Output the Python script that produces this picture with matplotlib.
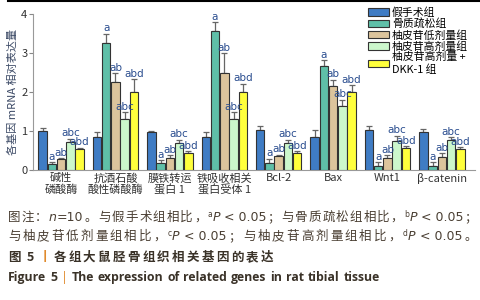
import re
import numpy as np
import matplotlib.pyplot as plt
from matplotlib.lines import Line2D

plt.rcParams['font.family'] = ['Noto Sans CJK SC', 'DejaVu Sans']

genes = ['碱性\n磷酸酶', '抗酒石酸\n酸性磷酸酶', '膜铁转运\n蛋白 1', '铁吸收相关\n蛋白受体 1',
         'Bcl-2', 'Bax', 'Wnt1', 'β-catenin']
groups = ['假手术组', '骨质疏松组', '柚皮苷低剂量组', '柚皮苷高剂量组', '柚皮苷高剂量 +\nDKK-1 组']
colors = ['#3f7cc4', '#5fbfa8', '#dcc49c', '#ccf7cc', '#ffff3c']

sham = [1.00, 0.85, 0.97, 0.85, 1.04, 0.85, 1.04, 0.98]
op = [0.16, 3.25, 0.18, 3.57, 0.19, 2.67, 0.10, 0.11]
low = [0.28, 2.25, 0.32, 2.50, 0.37, 2.15, 0.30, 0.33]
high = [0.73, 1.30, 0.70, 1.32, 0.70, 1.64, 0.74, 0.77]
dkk = [0.55, 2.00, 0.45, 2.00, 0.45, 2.00, 0.56, 0.53]

sham_err = [0.09, 0.13, 0.02, 0.13, 0.08, 0.17, 0.08, 0.08]
op_err = [0.05, 0.25, 0.07, 0.22, 0.10, 0.15, 0.10, 0.09]
low_err = [0.03, 0.23, 0.06, 0.50, 0.02, 0.17, 0.08, 0.10]
high_err = [0.08, 0.18, 0.08, 0.17, 0.08, 0.17, 0.14, 0.08]
dkk_err = [0.02, 0.33, 0.03, 0.22, 0.04, 0.18, 0.05, 0.05]

sig = ['', 'a', 'ab', 'abc', 'abd']

vals = [sham, op, low, high, dkk]
errs = [sham_err, op_err, low_err, high_err, dkk_err]

fig = plt.figure(figsize=(4.81, 3.0), dpi=100)
W, H = fig.bbox.width, fig.bbox.height
ax = fig.add_axes([0.0686, 0.433, 0.918, 0.52])

x = np.arange(len(genes))
w = 0.17
for i in range(5):
    xs = x + (i - 2) * w
    ax.bar(xs, vals[i], w * 0.92, color=colors[i], edgecolor='#333333', linewidth=0.8,
           label=groups[i], zorder=3)
    ax.errorbar(xs, vals[i], yerr=[np.zeros(len(x)), errs[i]], fmt='none',
                ecolor='#666666', elinewidth=0.9, capsize=2, capthick=0.9, zorder=2)
    if sig[i]:
        for j in range(len(x)):
            ax.text(xs[j], vals[i][j] + errs[i][j] + 0.01, sig[i], ha='center', va='bottom',
                    fontsize=7.5, color='#2a4d8f', family='DejaVu Sans', zorder=4)

ax.set_xlim(-0.515, 7.6)
ax.set_ylim(0, 4)
ax.set_yticks([0, 1, 2, 3, 4])
ax.set_xticks(x)
ax.set_xticklabels(genes, fontsize=8, color='#333333', linespacing=1.15)
ax.tick_params(axis='x', length=0, pad=2)
ax.tick_params(axis='y', length=3, width=0.8, color='#888888', labelsize=8,
               labelcolor='#333333', pad=1)
for s in ['top', 'right']:
    ax.spines[s].set_visible(False)
ax.spines['left'].set_color('#999999')
ax.spines['bottom'].set_color('#999999')
ax.set_ylabel('各基因 mRNA 相对表达量', fontsize=8, color='#3c4a66', labelpad=2)

ax.legend(loc='upper right', bbox_to_anchor=(1.0, 1.085), frameon=False, fontsize=7.8,
          handlelength=1.9, handleheight=0.7, handletextpad=0.3, labelspacing=0.05,
          borderaxespad=0.2)

fig.add_artist(Line2D([0.017, 1.0], [0.998, 0.998], color='black', linewidth=1.5))


def toks(s, st):
    # one token per CJK character, latin runs kept whole
    out = []
    for m in re.findall(r'[\u3000-\u9fff\uff00-\uffef]|[^\u3000-\u9fff\uff00-\uffef]+', s):
        out.append((m, st, True))
    return out


def jline(x0, x1, ybase, tokens):
    r = fig.canvas.get_renderer()
    items = []
    for s, st, glue in tokens:
        st = dict(st)
        dy = st.pop('dy', 0)
        pad = st.pop('pad', 0)
        t = fig.text(0, ybase + dy / H, s, va='baseline', **st)
        items.append((t, t.get_window_extent(renderer=r).width, glue, pad))
    total = sum(it[1] + it[3] for it in items)
    ngap = sum(1 for it in items[1:] if it[2])
    extra = (x1 - x0 - total) / max(ngap, 1)
    xx = x0
    for k, (t, wd, g, pad) in enumerate(items):
        if k > 0 and g:
            xx += extra
        xx += pad
        t.set_x(xx / W)
        xx += wd


cap = '#4a3f33'
fs = 9
n = dict(fontsize=fs, color=cap)
it = dict(fontsize=fs, color=cap, style='italic', family='DejaVu Sans')
lat = dict(fontsize=fs, color=cap, family='DejaVu Sans')
lt = dict(lat, pad=3)
sup = dict(fontsize=5.5, color=cap, dy=4, family='DejaVu Sans')

line1 = (toks('图注：', n) + [('n', it, True), ('=10', lat, False)] + toks('。与假手术组相比，', n)
         + [('a', sup, True), ('P', it, False), ('< 0.05', lt, True)]
         + toks('；与骨质疏松组相比，', n)
         + [('b', sup, True), ('P', it, False), ('< 0.05', lt, True)] + toks('；', n))
line2 = (toks('与柚皮苷低剂量组相比，', n)
         + [('c', sup, True), ('P', it, False), ('< 0.05', lt, True)]
         + toks('；与柚皮苷高剂量组相比，', n)
         + [('d', sup, True), ('P', it, False), ('< 0.05', lt, True)] + toks('。', n))
jline(8, 477, 1 - 221 / 300, line1)
jline(8, 477, 1 - 240 / 300, line2)

bold = dict(fontsize=fs, color='#3a3228', weight='bold')
line3 = ([('图', bold, True), ('5', dict(bold, pad=4), True),
          ('丨', dict(bold, color='#e08a2c', pad=2), True)]
         + toks('各组大鼠胫骨组织相关基因的表达', bold))
jline(8, 273, 1 - 261 / 300, line3)

eng = dict(fontsize=8.8, color='#3a3228', weight='bold', family='Open Sans')
words = 'The expression of related genes in rat tibial tissue'.split()
line4 = [('Figure', eng, True), ('5', eng, True),
         ('|', dict(eng, color='#e08a2c', weight='normal'), True)]
line4 += [(wd, eng, True) for wd in words]
jline(8, 380, 1 - 281 / 300, line4)

fig.savefig('out.png', dpi=100)
